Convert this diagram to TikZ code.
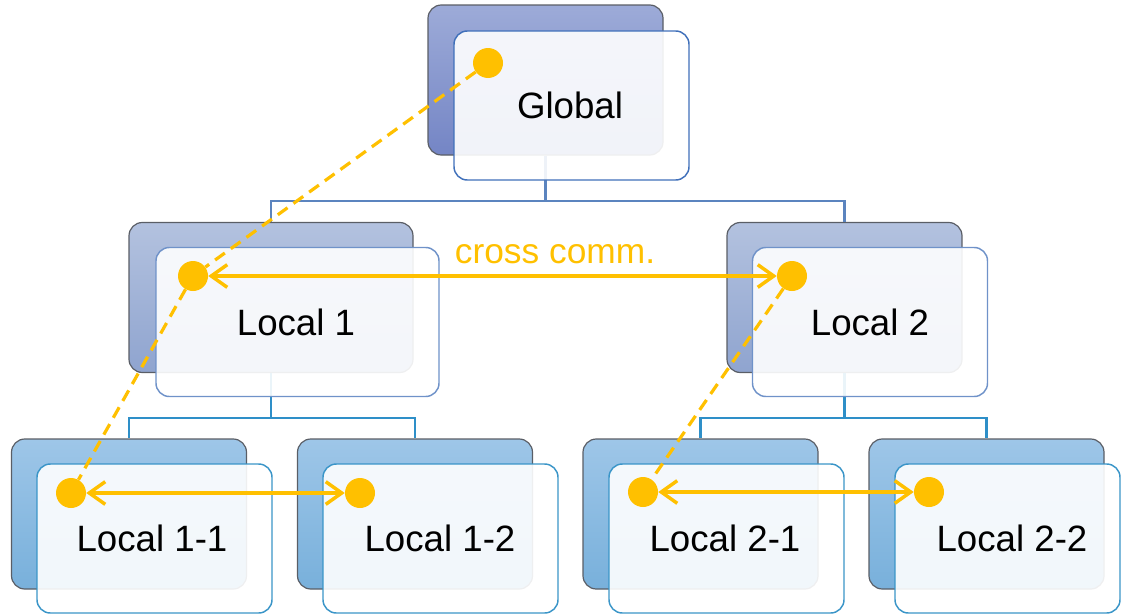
\documentclass[tikz,border=0pt]{standalone}
\usepackage{fontspec}
\setmainfont{Liberation Sans}
\usetikzlibrary{arrows.meta}
\definecolor{ylw}{HTML}{FFC000}
\definecolor{gtop}{HTML}{9DABD8}
\definecolor{gbot}{HTML}{7485C5}
\definecolor{ltop}{HTML}{B3C2DF}
\definecolor{lbot}{HTML}{8FA4CF}
\definecolor{btop}{HTML}{9EC6E8}
\definecolor{bbot}{HTML}{78B0DB}
\definecolor{edgegray}{HTML}{5A5E66}
\definecolor{frontA}{HTML}{4070BA}
\definecolor{frontB}{HTML}{6F92C9}
\definecolor{frontC}{HTML}{3A95C8}
\definecolor{connA}{HTML}{5B84BF}
\definecolor{connB}{HTML}{2E8FC8}
\begin{document}
\begin{tikzpicture}[x=0.75pt,y=-0.75pt,
  backbox/.style={draw=edgegray, line width=0.9pt, rounded corners=10pt,
    minimum width=176.25pt, minimum height=112.5pt, inner sep=0pt},
  frontbox/.style={line width=1.1pt, rounded corners=10pt, fill=white, fill opacity=0.9,
    minimum width=176.25pt, minimum height=111.75pt, inner sep=0pt},
  lbl/.style={font=\fontsize{27.5}{30}\selectfont, anchor=base, inner sep=0pt},
  dot/.style={circle, fill=ylw, inner sep=0pt, minimum size=22.5pt},
  conn/.style={line width=2pt},
  ydash/.style={draw=ylw, line width=2.4pt, dash pattern=on 9pt off 5.5pt},
  yarrow/.style={draw=ylw, line width=2.6pt,
    {Straight Barb[length=12pt,width=17pt]}-{Straight Barb[length=12pt,width=17pt]}}
]
\useasboundingbox (0,0) rectangle (1121,614);

% back boxes
\node[backbox, top color=gtop, bottom color=gbot] (gb) at (545.5,80) {};
\node[backbox, top color=ltop, bottom color=lbot, minimum width=213pt] (l1b) at (271,297.5) {};
\node[backbox, top color=ltop, bottom color=lbot] (l2b) at (844.5,297.5) {};
\node[backbox, top color=btop, bottom color=bbot] (l11b) at (129,514) {};
\node[backbox, top color=btop, bottom color=bbot] (l12b) at (415,514) {};
\node[backbox, top color=btop, bottom color=bbot] (l21b) at (700.5,514) {};
\node[backbox, top color=btop, bottom color=bbot] (l22b) at (986.5,514) {};

% connectors
\coordinate (j0) at (545.5,201);
\coordinate (j1) at (271,418);
\coordinate (j2) at (844.5,418);
\draw[conn, connA] (gb.south) -- (j0);
\draw[conn, connA] (j0) -| (l1b.north);
\draw[conn, connA] (j0) -| (l2b.north);
\draw[conn, connB] (l1b.south) -- (j1);
\draw[conn, connB] (j1) -| (l11b.north);
\draw[conn, connB] (j1) -| (l12b.north);
\draw[conn, connB] (l2b.south) -- (j2);
\draw[conn, connB] (j2) -| (l21b.north);
\draw[conn, connB] (j2) -| (l22b.north);

% front boxes
\node[frontbox, draw=frontA] (gf) at (571.5,105.5) {};
\node[frontbox, draw=frontB, minimum width=212.25pt] (l1f) at (297.5,322) {};
\node[frontbox, draw=frontB] (l2f) at (870,322) {};
\node[frontbox, draw=frontC] (l11f) at (154.5,538.5) {};
\node[frontbox, draw=frontC] (l12f) at (440.5,538.5) {};
\node[frontbox, draw=frontC] (l21f) at (726.5,538.5) {};
\node[frontbox, draw=frontC, minimum width=168.75pt] (l22f) at (1007.5,538.5) {};

% labels
\node[lbl] (tg) at (570,118) {Global};
\node[lbl] (t1) at (296,335) {Local 1};
\node[lbl] (t2) at (870,335) {Local 2};
\node[lbl] (t11) at (152,551) {Local 1-1};
\node[lbl] (t12) at (440,551) {Local 1-2};
\node[lbl] (t21) at (725,551) {Local 2-1};
\node[lbl] (t22) at (1012,551) {Local 2-2};
\node[lbl, text=ylw, font=\fontsize{26.5}{30}\selectfont] (tc) at (555,263) {cross comm.};

% dots
\node[dot] (gd) at (488,63) {};
\node[dot] (d1) at (193,276) {};
\node[dot] (d2) at (792,276) {};
\node[dot] (d11) at (71,493) {};
\node[dot] (d12) at (360,493) {};
\node[dot] (d21) at (643,492) {};
\node[dot] (d22) at (929,492) {};

% yellow links
\draw[ydash] (gd) -- (d1);
\draw[ydash] (d1) -- (d11);
\draw[ydash] (d2) -- (d21);
\draw[yarrow] (d1) -- (d2);
\draw[yarrow] (d11) -- (d12);
\draw[yarrow] (d21) -- (d22);
\end{tikzpicture}
\end{document}
